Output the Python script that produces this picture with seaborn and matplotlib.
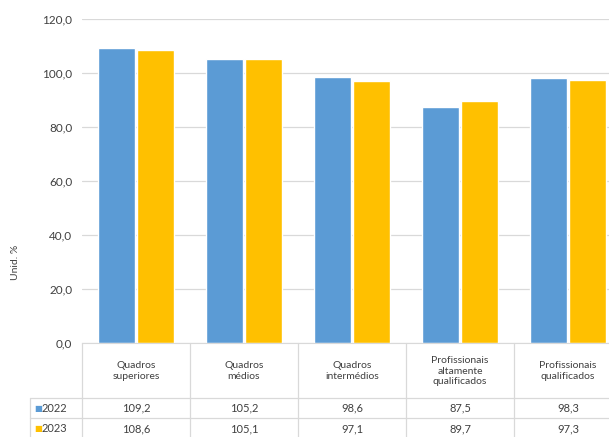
import numpy as np
import pandas as pd
import matplotlib
matplotlib.use("Agg")
import matplotlib.pyplot as plt
import matplotlib.transforms as mtransforms
from matplotlib.lines import Line2D
import seaborn as sns

# --- dados ---
categorias = ["Quadros\nsuperiores", "Quadros\nmédios", "Quadros\nintermédios",
              "Profissionais\naltamente\nqualificados", "Profissionais\nqualificados"]
anos = ["2022", "2023"]
valores_2022 = [109.2, 105.2, 98.6, 87.5, 98.3]
valores_2023 = [108.6, 105.1, 97.1, 89.7, 97.3]
yticks = [0, 20, 40, 60, 80, 100, 120]

cores = {"2022": "#5B9BD5", "2023": "#FFC000"}
txt_cor = "#404040"
grid_cor = "#D9D9D9"

df = pd.DataFrame({
    "cat": categorias * 2,
    "ano": ["2022"] * 5 + ["2023"] * 5,
    "valor": valores_2022 + valores_2023,
})

sns.set_style("white")
plt.rcParams["font.family"] = ["Lato", "DejaVu Sans"]

W, H = 609, 437
fig = plt.figure(figsize=(W / 100, H / 100), dpi=100)
ax = fig.add_axes([82 / W, (H - 343) / H, 540 / W, 324 / H])

sns.barplot(data=df, x="cat", y="valor", hue="ano", palette=cores,
            width=0.72, gap=0.05, ax=ax, legend=False, saturation=1)

ax.set_xlim(-0.5, 4.5)
ax.set_ylim(0, 120)
ax.set_yticks(yticks)
ax.set_yticklabels([f"{v:.1f}".replace(".", ",") for v in yticks],
                   fontsize=8.5, color=txt_cor)
ax.tick_params(axis="y", length=0, pad=7)
ax.set_xticks([])
ax.set_xlabel("")
ax.set_ylabel("Unid. %", fontsize=7.5, color=txt_cor)
ax.yaxis.set_label_coords(-0.115, 0.25)
ax.yaxis.grid(True, color=grid_cor, lw=0.9)
ax.set_axisbelow(True)
for s in ["top", "right", "left"]:
    ax.spines[s].set_visible(False)
ax.spines["bottom"].set_color(grid_cor)

# --- tabela por baixo ---
tr = mtransforms.blended_transform_factory(ax.transData, fig.transFigure)
def fy(py):
    return 1 - py / H

for i, c in enumerate(categorias):
    ax.text(i, fy(371), c, transform=tr, ha="center", va="center",
            fontsize=7.5, color=txt_cor, linespacing=1.2, clip_on=False)
    ax.text(i, fy(408), f"{valores_2022[i]:.1f}".replace(".", ","), transform=tr,
            ha="center", va="center", fontsize=8, color=txt_cor, clip_on=False)
    ax.text(i, fy(429), f"{valores_2023[i]:.1f}".replace(".", ","), transform=tr,
            ha="center", va="center", fontsize=8, color=txt_cor, clip_on=False)

for xv in np.arange(-0.5, 5, 1):
    fig.add_artist(Line2D([xv, xv], [fy(343), fy(437)], transform=tr,
                          color=grid_cor, lw=0.9))
for py in [398, 418]:
    fig.add_artist(Line2D([30 / W, 1], [fy(py), fy(py)], transform=fig.transFigure,
                          color=grid_cor, lw=0.9))
fig.add_artist(Line2D([30 / W, 30 / W], [fy(398), fy(437)], transform=fig.transFigure,
                      color=grid_cor, lw=0.9))

for ano, py in zip(anos, [408, 429]):
    fig.text(34 / W, fy(py), "■", color=cores[ano], fontsize=6,
             ha="left", va="center", family=["DejaVu Sans"])
    fig.text(42 / W, fy(py), ano, color=txt_cor, fontsize=8,
             ha="left", va="center")

fig.savefig("out.png", dpi=100)
